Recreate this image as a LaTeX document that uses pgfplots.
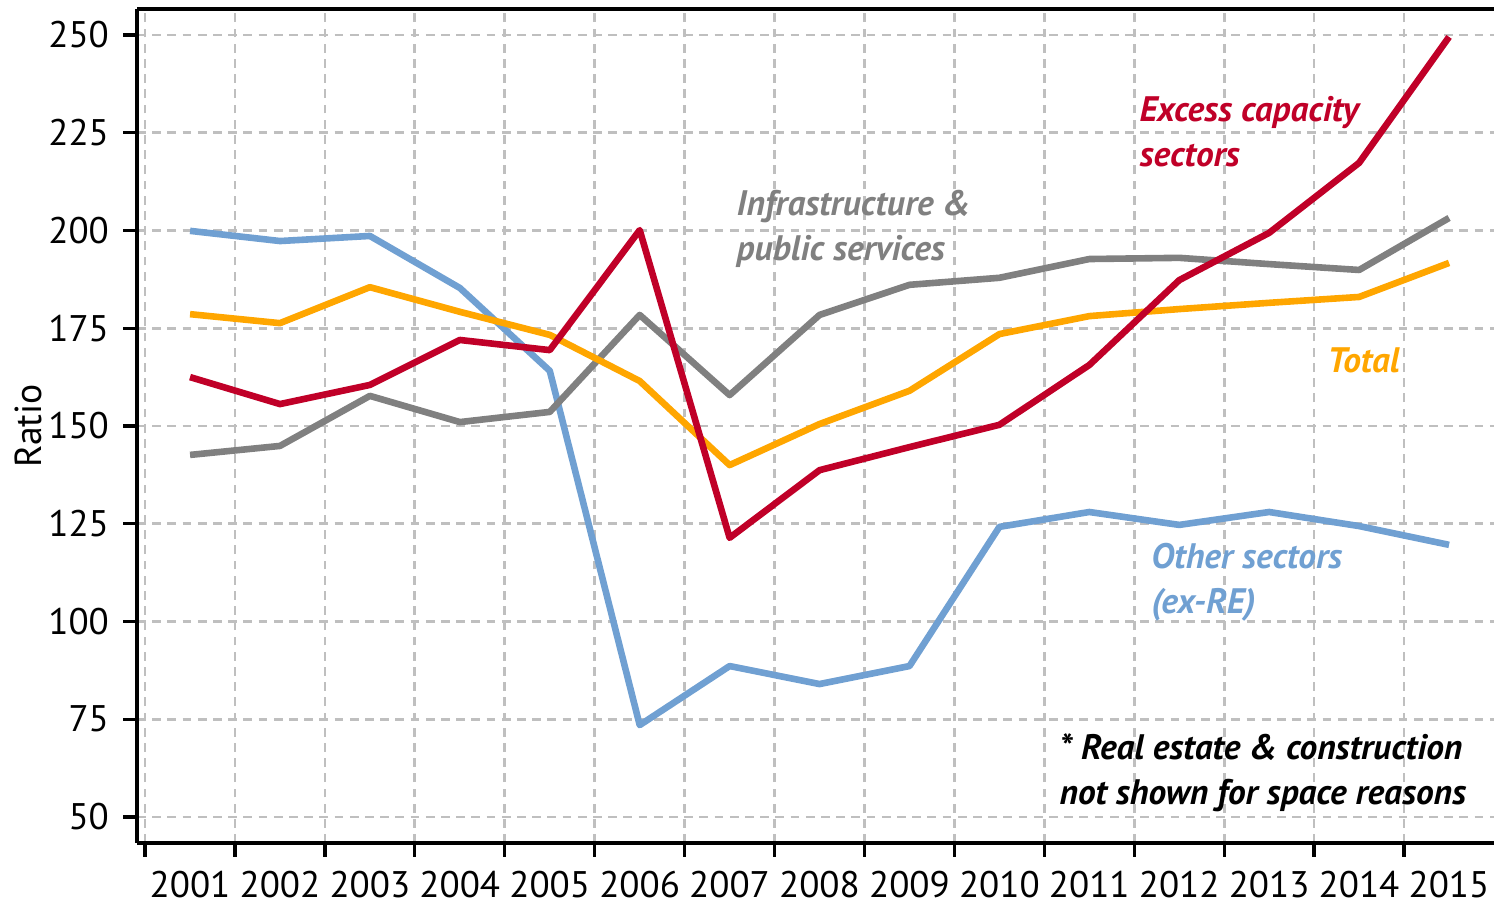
\documentclass[border=0pt]{standalone}
\usepackage{fontspec}
\setmainfont{PT Sans}
\usepackage{pgfplots}
\pgfplotsset{compat=1.18}

\definecolor{excess}{RGB}{192,0,40}
\definecolor{infra}{RGB}{128,128,128}
\definecolor{total}{RGB}{255,166,0}
\definecolor{other}{RGB}{112,160,210}

\newcommand{\lbl}{\fontsize{8.85}{11.25}\selectfont\bfseries\itshape}

\begin{document}
\begin{tikzpicture}
\useasboundingbox (-34.25pt,-15.5pt) rectangle (339.25pt,210.75pt);
\begin{axis}[
  scale only axis,
  width=339.25pt, height=208.5pt,
  xmin=2000.41, xmax=2015.5,
  ymin=43.35, ymax=256.65,
  axis x line*=box, axis y line*=left,
  axis line style={line width=0.8pt},
  xtick={2001,...,2015},
  minor xtick={2000.5,...,2014.5},
  ytick={50,75,...,250},
  xtick pos=bottom, ytick pos=left,
  tick align=outside,
  major tick length=3.5pt, minor tick length=3.5pt,
  major x tick style={draw=none},
  tick style={line width=0.8pt, black},
  xmajorgrids=false, xminorgrids=true, ymajorgrids=true,
  grid style={dash pattern=on 2.2pt off 1.6pt, line width=0.7pt, black!25},
  xticklabel style={/pgf/number format/1000 sep={}},
  /pgf/number format/assume math mode=true,
  tick label style={font=\fontsize{9.25}{11.1}\selectfont},
  ylabel={Ratio},
  ylabel style={at={(axis description cs:-0.080,0.5)}, anchor=center, font=\fontsize{9.4}{11.3}\selectfont},
  clip=false,
  every axis plot/.append style={line width=1.65pt, line join=round},
]
% Other sectors (ex-RE)
\addplot[other] coordinates {
  (2001,199.9) (2002,197.3) (2003,198.6) (2004,185.3) (2005,164.1)
  (2006,73.5) (2007,88.6) (2008,84.0) (2009,88.6) (2010,124.2)
  (2011,128.0) (2012,124.7) (2013,128.0) (2014,124.4) (2015,119.6)};
% Infrastructure & public services
\addplot[infra] coordinates {
  (2001,142.6) (2002,144.9) (2003,157.7) (2004,151.0) (2005,153.6)
  (2006,178.4) (2007,157.9) (2008,178.4) (2009,186.1) (2010,187.9)
  (2011,192.7) (2012,193.0) (2013,191.4) (2014,189.9) (2015,203.2)};
% Total
\addplot[total] coordinates {
  (2001,178.6) (2002,176.3) (2003,185.5) (2004,179.2) (2005,173.3)
  (2006,161.5) (2007,140.0) (2008,150.5) (2009,159.0) (2010,173.5)
  (2011,178.1) (2012,179.9) (2013,181.5) (2014,183.0) (2015,191.7)};
% Excess capacity sectors
\addplot[excess] coordinates {
  (2001,162.5) (2002,155.6) (2003,160.5) (2004,172.0) (2005,169.4)
  (2006,200.1) (2007,121.4) (2008,138.7) (2009,144.6) (2010,150.3)
  (2011,165.6) (2012,187.3) (2013,199.4) (2014,217.3) (2015,249.5)};

\node[anchor=west, align=left, text=excess, font=\lbl, inner sep=0pt] at (axis cs:2011.55,225.3) {Excess capacity\\sectors};
\node[anchor=west, align=left, text=infra, font=\lbl, inner sep=0pt] at (axis cs:2007.07,200.3) {Infrastructure \&\\public services};
\node[anchor=west, align=left, text=total, font=\lbl, inner sep=0pt] at (axis cs:2013.64,166.9) {Total};
\node[anchor=west, align=left, text=other, font=\lbl, inner sep=0pt] at (axis cs:2011.68,110.0) {Other sectors\\(ex-RE)};
\node[anchor=west, align=left, text=black, font=\lbl, inner sep=0pt] at (axis cs:2010.66,61.2) {* Real estate \& construction\\not shown for space reasons};
\end{axis}
\end{tikzpicture}
\end{document}
